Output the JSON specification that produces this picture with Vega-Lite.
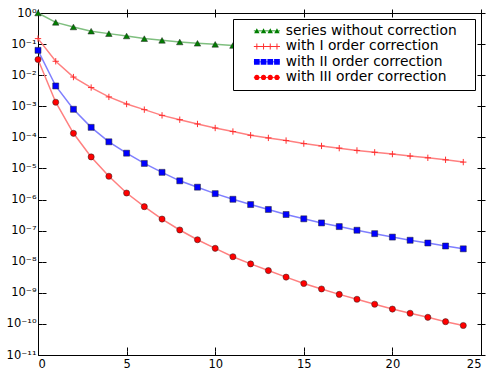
{
  "$schema": "https://vega.github.io/schema/vega-lite/v6.json",
  "width": 443,
  "height": 342,
  "autosize": {"type": "none"},
  "padding": {"left": 38, "top": 13, "right": 9, "bottom": 15},
  "config": {
    "font": "DejaVu Sans",
    "view": {"stroke": "#000000", "strokeWidth": 1},
    "axis": {
      "domain": false,
      "grid": true,
      "gridColor": "#000000",
      "gridOpacity": 1,
      "gridWidth": 1,
      "ticks": true,
      "offset": -4,
      "tickSize": 4,
      "tickColor": "#000000",
      "tickWidth": 1,
      "labelFont": "DejaVu Sans",
      "labelFontSize": 11.5,
      "labelColor": "#000000",
      "title": null
    }
  },
  "data": {
    "values": [
      {"n": 0, "value": 1.0, "series": "series without correction"},
      {"n": 1, "value": 0.5, "series": "series without correction"},
      {"n": 2, "value": 0.355, "series": "series without correction"},
      {"n": 3, "value": 0.26, "series": "series without correction"},
      {"n": 4, "value": 0.217, "series": "series without correction"},
      {"n": 5, "value": 0.182, "series": "series without correction"},
      {"n": 6, "value": 0.15, "series": "series without correction"},
      {"n": 7, "value": 0.132, "series": "series without correction"},
      {"n": 8, "value": 0.117, "series": "series without correction"},
      {"n": 9, "value": 0.106, "series": "series without correction"},
      {"n": 10, "value": 0.098, "series": "series without correction"},
      {"n": 11, "value": 0.09, "series": "series without correction"},
      {"n": 12, "value": 0.083, "series": "series without correction"},
      {"n": 13, "value": 0.077, "series": "series without correction"},
      {"n": 14, "value": 0.072, "series": "series without correction"},
      {"n": 15, "value": 0.0675, "series": "series without correction"},
      {"n": 16, "value": 0.0635, "series": "series without correction"},
      {"n": 17, "value": 0.06, "series": "series without correction"},
      {"n": 18, "value": 0.057, "series": "series without correction"},
      {"n": 19, "value": 0.054, "series": "series without correction"},
      {"n": 20, "value": 0.0514, "series": "series without correction"},
      {"n": 21, "value": 0.049, "series": "series without correction"},
      {"n": 22, "value": 0.047, "series": "series without correction"},
      {"n": 23, "value": 0.045, "series": "series without correction"},
      {"n": 24, "value": 0.043, "series": "series without correction"},

      {"n": 0, "value": 0.15, "series": "with I order correction"},
      {"n": 1, "value": 0.028, "series": "with I order correction"},
      {"n": 2, "value": 0.0087, "series": "with I order correction"},
      {"n": 3, "value": 0.004, "series": "with I order correction"},
      {"n": 4, "value": 0.002, "series": "with I order correction"},
      {"n": 5, "value": 0.00118, "series": "with I order correction"},
      {"n": 6, "value": 0.00078, "series": "with I order correction"},
      {"n": 7, "value": 0.00051, "series": "with I order correction"},
      {"n": 8, "value": 0.00037, "series": "with I order correction"},
      {"n": 9, "value": 0.00027, "series": "with I order correction"},
      {"n": 10, "value": 0.0002, "series": "with I order correction"},
      {"n": 11, "value": 0.000154, "series": "with I order correction"},
      {"n": 12, "value": 0.000117, "series": "with I order correction"},
      {"n": 13, "value": 0.000096, "series": "with I order correction"},
      {"n": 14, "value": 0.000079, "series": "with I order correction"},
      {"n": 15, "value": 0.000063, "series": "with I order correction"},
      {"n": 16, "value": 0.000053, "series": "with I order correction"},
      {"n": 17, "value": 0.000045, "series": "with I order correction"},
      {"n": 18, "value": 0.000038, "series": "with I order correction"},
      {"n": 19, "value": 0.000033, "series": "with I order correction"},
      {"n": 20, "value": 0.000029, "series": "with I order correction"},
      {"n": 21, "value": 0.000025, "series": "with I order correction"},
      {"n": 22, "value": 0.000022, "series": "with I order correction"},
      {"n": 23, "value": 0.000019, "series": "with I order correction"},
      {"n": 24, "value": 0.000016, "series": "with I order correction"},

      {"n": 0, "value": 0.063, "series": "with II order correction"},
      {"n": 1, "value": 0.0045, "series": "with II order correction"},
      {"n": 2, "value": 0.0008, "series": "with II order correction"},
      {"n": 3, "value": 0.00021, "series": "with II order correction"},
      {"n": 4, "value": 0.000072, "series": "with II order correction"},
      {"n": 5, "value": 0.000031, "series": "with II order correction"},
      {"n": 6, "value": 0.0000145, "series": "with II order correction"},
      {"n": 7, "value": 0.0000075, "series": "with II order correction"},
      {"n": 8, "value": 0.000004, "series": "with II order correction"},
      {"n": 9, "value": 0.0000025, "series": "with II order correction"},
      {"n": 10, "value": 0.00000155, "series": "with II order correction"},
      {"n": 11, "value": 0.00000102, "series": "with II order correction"},
      {"n": 12, "value": 6.9e-7, "series": "with II order correction"},
      {"n": 13, "value": 4.8e-7, "series": "with II order correction"},
      {"n": 14, "value": 3.3e-7, "series": "with II order correction"},
      {"n": 15, "value": 2.4e-7, "series": "with II order correction"},
      {"n": 16, "value": 1.77e-7, "series": "with II order correction"},
      {"n": 17, "value": 1.35e-7, "series": "with II order correction"},
      {"n": 18, "value": 1.03e-7, "series": "with II order correction"},
      {"n": 19, "value": 8.0e-8, "series": "with II order correction"},
      {"n": 20, "value": 6.2e-8, "series": "with II order correction"},
      {"n": 21, "value": 4.9e-8, "series": "with II order correction"},
      {"n": 22, "value": 4.0e-8, "series": "with II order correction"},
      {"n": 23, "value": 3.2e-8, "series": "with II order correction"},
      {"n": 24, "value": 2.6e-8, "series": "with II order correction"},

      {"n": 0, "value": 0.032, "series": "with III order correction"},
      {"n": 1, "value": 0.00135, "series": "with III order correction"},
      {"n": 2, "value": 0.000135, "series": "with III order correction"},
      {"n": 3, "value": 0.0000235, "series": "with III order correction"},
      {"n": 4, "value": 0.0000056, "series": "with III order correction"},
      {"n": 5, "value": 0.00000162, "series": "with III order correction"},
      {"n": 6, "value": 5.9e-7, "series": "with III order correction"},
      {"n": 7, "value": 2.36e-7, "series": "with III order correction"},
      {"n": 8, "value": 1.05e-7, "series": "with III order correction"},
      {"n": 9, "value": 5.1e-8, "series": "with III order correction"},
      {"n": 10, "value": 2.7e-8, "series": "with III order correction"},
      {"n": 11, "value": 1.45e-8, "series": "with III order correction"},
      {"n": 12, "value": 8.5e-9, "series": "with III order correction"},
      {"n": 13, "value": 5.2e-9, "series": "with III order correction"},
      {"n": 14, "value": 3.2e-9, "series": "with III order correction"},
      {"n": 15, "value": 2.0e-9, "series": "with III order correction"},
      {"n": 16, "value": 1.33e-9, "series": "with III order correction"},
      {"n": 17, "value": 8.9e-10, "series": "with III order correction"},
      {"n": 18, "value": 6.2e-10, "series": "with III order correction"},
      {"n": 19, "value": 4.3e-10, "series": "with III order correction"},
      {"n": 20, "value": 3.0e-10, "series": "with III order correction"},
      {"n": 21, "value": 2.2e-10, "series": "with III order correction"},
      {"n": 22, "value": 1.63e-10, "series": "with III order correction"},
      {"n": 23, "value": 1.18e-10, "series": "with III order correction"},
      {"n": 24, "value": 8.9e-11, "series": "with III order correction"}
    ]
  },
  "encoding": {
    "x": {
      "field": "n",
      "type": "quantitative",
      "scale": {"domain": [0, 25], "nice": false, "zero": false},
      "axis": {"values": [0, 5, 10, 15, 20, 25], "labelPadding": 3, "gridDash": [4, 334, 4, 2000]}
    },
    "y": {
      "field": "value",
      "type": "quantitative",
      "scale": {"type": "log", "domain": [1e-11, 1], "nice": false},
      "axis": {
        "values": [1, 0.1, 0.01, 0.001, 0.0001, 1e-5, 1e-6, 1e-7, 1e-8, 1e-9, 1e-10, 1e-11],
        "labelPadding": 2,
        "gridDash": [4, 435, 4, 2000],
        "labelExpr": "datum.value >= 0.5 ? '10⁰' : (round(-log(datum.value)/LN10) < 10 ? '10⁻' + substring('⁰¹²³⁴⁵⁶⁷⁸⁹', round(-log(datum.value)/LN10), round(-log(datum.value)/LN10) + 1) : '10⁻¹' + substring('⁰¹²³⁴⁵⁶⁷⁸⁹', round(-log(datum.value)/LN10) - 10, round(-log(datum.value)/LN10) - 9))"
      }
    }
  },
  "layer": [
    {
      "layer": [
        {
          "transform": [{"filter": "datum.series === 'series without correction'"}],
          "mark": {"type": "line", "color": "#7fbf7f", "strokeWidth": 1.5}
        },
        {
          "transform": [{"filter": "datum.series === 'series without correction'"}],
          "mark": {"type": "point", "shape": "triangle-up", "filled": true, "fill": "#007f00", "stroke": "#222222", "strokeWidth": 0.5, "size": 42, "opacity": 1}
        },
        {
          "transform": [{"filter": "datum.series === 'with I order correction'"}],
          "mark": {"type": "line", "color": "#ff8080", "strokeWidth": 1.5}
        },
        {
          "transform": [{"filter": "datum.series === 'with I order correction'"}],
          "mark": {"type": "point", "shape": "M-1,0H1M0,-1V1", "filled": false, "stroke": "#ff3030", "strokeWidth": 1, "size": 40, "opacity": 1}
        },
        {
          "transform": [{"filter": "datum.series === 'with II order correction'"}],
          "mark": {"type": "line", "color": "#7f7fff", "strokeWidth": 1.5}
        },
        {
          "transform": [{"filter": "datum.series === 'with II order correction'"}],
          "mark": {"type": "point", "shape": "square", "filled": true, "fill": "#0000ff", "stroke": "#222222", "strokeWidth": 0.5, "size": 36, "opacity": 1}
        },
        {
          "transform": [{"filter": "datum.series === 'with III order correction'"}],
          "mark": {"type": "line", "color": "#ff8080", "strokeWidth": 1.5}
        },
        {
          "transform": [{"filter": "datum.series === 'with III order correction'"}],
          "mark": {"type": "point", "shape": "circle", "filled": true, "fill": "#ff0000", "stroke": "#222222", "strokeWidth": 0.5, "size": 38, "opacity": 1}
        }
      ]
    },
    {
      "transform": [{"filter": "datum.n < 0"}],
      "mark": {"type": "point", "filled": true, "opacity": 1},
      "encoding": {
        "x": {
          "field": "n",
          "type": "quantitative",
          "axis": {"orient": "top", "values": [0, 5, 10, 15, 20, 25], "labels": false, "grid": false}
        },
        "y": {
          "field": "value",
          "type": "quantitative",
          "axis": {"orient": "right", "values": [1, 0.1, 0.01, 0.001, 0.0001, 1e-5, 1e-6, 1e-7, 1e-8, 1e-9, 1e-10, 1e-11], "labels": false, "grid": false}
        },
        "color": {
          "field": "series",
          "type": "nominal",
          "scale": {
            "domain": ["series without correction", "with I order correction", "with II order correction", "with III order correction"],
            "range": ["#007f00", "#ff3030", "#0000ff", "#ff0000"]
          },
          "legend": {
            "title": "\u00a0",
            "titleOrient": "right",
            "titlePadding": 13,
            "titleFontSize": 13.8,
            "orient": "top-right",
            "offset": 6,
            "fillColor": "#ffffff",
            "strokeColor": "#000000",
            "padding": 5,
            "labelFont": "DejaVu Sans",
            "labelFontSize": 13.8,
            "labelColor": "#000000",
            "labelLimit": 400,
            "labelOffset": 12,
            "symbolOffset": 22,
            "symbolSize": 45,
            "symbolStrokeWidth": 0,
            "symbolOpacity": 1,
            "rowPadding": 0.5
          }
        },
        "shape": {
          "field": "series",
          "type": "nominal",
          "scale": {
            "domain": ["series without correction", "with I order correction", "with II order correction", "with III order correction"],
            "range": [
              "M-8.7,0L-8.7,0ZM-3.9,-0.12H3.9V0.12H-3.9ZM-3.8,0.7L-3,-0.8L-2.2,0.7ZM-1.8,0.7L-1,-0.8L-0.2,0.7ZM0.2,0.7L1,-0.8L1.8,0.7ZM2.2,0.7L3,-0.8L3.8,0.7Z",
              "M-8.7,0L-8.7,0ZM-3.9,-0.15H3.9V0.15H-3.9ZM-3.15,-0.9H-2.85V0.9H-3.15ZM-1.15,-0.9H-0.85V0.9H-1.15ZM0.85,-0.9H1.15V0.9H0.85ZM2.85,-0.9H3.15V0.9H2.85Z",
              "M-8.7,0L-8.7,0ZM-3.9,-0.12H3.9V0.12H-3.9ZM-3.85,-0.85H-2.15V0.85H-3.85ZM-1.85,-0.85H-0.15V0.85H-1.85ZM0.15,-0.85H1.85V0.85H0.15ZM2.15,-0.85H3.85V0.85H2.15Z",
              "M-8.7,0L-8.7,0ZM-3.9,-0.12H3.9V0.12H-3.9ZM-3.8,0A0.8,0.8,0,1,1,-2.2,0A0.8,0.8,0,1,1,-3.8,0ZM-1.8,0A0.8,0.8,0,1,1,-0.2,0A0.8,0.8,0,1,1,-1.8,0ZM0.2,0A0.8,0.8,0,1,1,1.8,0A0.8,0.8,0,1,1,0.2,0ZM2.2,0A0.8,0.8,0,1,1,3.8,0A0.8,0.8,0,1,1,2.2,0Z"
            ]
          }
        }
      }
    }
  ],
  "resolve": {"axis": {"x": "independent", "y": "independent"}}
}
